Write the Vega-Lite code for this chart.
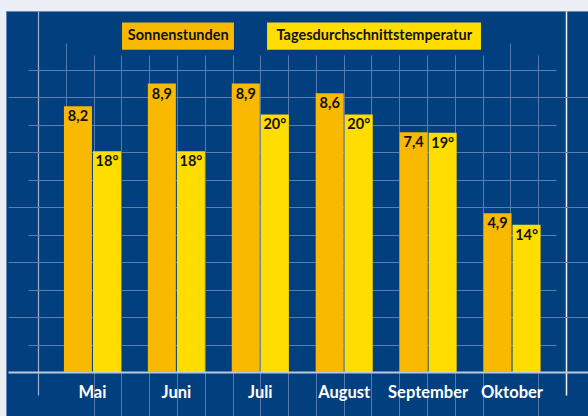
{
  "$schema": "https://vega.github.io/schema/vega-lite/v6.json",
  "width": 582,
  "height": 405,
  "autosize": {"type": "none"},
  "padding": {"left": 6, "top": 11, "right": 0, "bottom": 0},
  "background": "#eceef5",
  "config": {
    "view": {"fill": "#013f7f", "stroke": "#6a86b3", "strokeWidth": 1},
    "font": "Lato"
  },
  "datasets": {
    "monate": [
      {"Monat": "Mai", "Sonnenstunden": 8.2, "Temperatur": 18},
      {"Monat": "Juni", "Sonnenstunden": 8.9, "Temperatur": 18},
      {"Monat": "Juli", "Sonnenstunden": 8.9, "Temperatur": 20},
      {"Monat": "August", "Sonnenstunden": 8.6, "Temperatur": 20},
      {"Monat": "September", "Sonnenstunden": 7.4, "Temperatur": 19},
      {"Monat": "Oktober", "Sonnenstunden": 4.9, "Temperatur": 14}
    ]
  },
  "layer": [
    {
      "data": {"values": [{}]},
      "mark": {"type": "point", "opacity": 0},
      "encoding": {
        "x": {"datum": 0, "type": "quantitative", "scale": {"domain": [0, 19], "range": [32, 560]},
          "axis": {"values": [2,3,4,5,6,7,8,9,10,11,12,13,14,15,16,18], "grid": true, "gridColor": "#5479ae", "gridWidth": 1, "labels": false, "ticks": false, "domain": false, "title": null}},
        "y": {"datum": 0, "type": "quantitative", "scale": {"domain": [0, 1], "range": [361, 0]}, "axis": null}
      }
    },
    {
      "data": {"values": [{}]},
      "mark": {"type": "point", "opacity": 0},
      "encoding": {
        "x": {"datum": 0, "type": "quantitative", "scale": {"domain": [0, 19], "range": [32, 560]},
          "axis": {"values": [1, 17], "grid": true, "gridColor": "#5479ae", "gridWidth": 1, "labels": false, "ticks": false, "domain": false, "title": null}},
        "y": {"datum": 0, "type": "quantitative", "scale": {"domain": [0, 1], "range": [361, 32]}, "axis": null}
      }
    },
    {
      "data": {"values": [{}]},
      "mark": {"type": "point", "opacity": 0},
      "encoding": {
        "x": {"datum": 0, "type": "quantitative", "scale": {"domain": [0, 19], "range": [32, 560]},
          "axis": {"values": [0, 19], "grid": true,
            "gridColor": {"condition": {"test": "datum.value === 19", "value": "#f4f6fb"}, "value": "#9fb3d1"},
            "gridWidth": {"condition": {"test": "datum.value === 19", "value": 1.5}, "value": 1.2},
            "labels": false, "ticks": false, "domain": false, "title": null}},
        "y": {"datum": 0, "type": "quantitative", "scale": {"domain": [0, 1], "range": [384, 0]}, "axis": null}
      }
    },
    {
      "data": {"values": [{}]},
      "mark": {"type": "point", "opacity": 0},
      "encoding": {
        "y": {"datum": 0, "type": "quantitative", "scale": {"domain": [0, 11], "range": [361, 59]},
          "axis": {"values": [0, 2, 4, 6, 8, 10], "grid": true,
            "gridColor": {"condition": {"test": "datum.value === 0", "value": "#bcc8dd"}, "value": "#5a7eb2"},
            "gridWidth": {"condition": {"test": "datum.value === 0", "value": 2}, "value": 1},
            "labels": false, "ticks": false, "domain": false, "title": null}},
        "x": {"datum": 0, "type": "quantitative", "scale": {"domain": [0, 1], "range": [2, 582]}, "axis": null}
      }
    },
    {
      "data": {"values": [{}]},
      "mark": {"type": "point", "opacity": 0},
      "encoding": {
        "y": {"datum": 0, "type": "quantitative", "scale": {"domain": [0, 11], "range": [361, 59]},
          "axis": {"values": [1, 3, 5, 7, 9, 11], "grid": true, "gridColor": "#5a7eb2", "gridWidth": 1,
            "labels": false, "ticks": false, "domain": false, "title": null}},
        "x": {"datum": 0, "type": "quantitative", "scale": {"domain": [0, 1], "range": [32, 560]}, "axis": null}
      }
    },
    {
      "data": {"name": "monate"},
      "transform": [
        {"calculate": "replace(format(datum.Sonnenstunden, '.1f'), '.', ',')", "as": "SonneText"},
        {"calculate": "datum.Temperatur + '°'", "as": "TempText"}
      ],
      "encoding": {
        "x": {"field": "Monat", "type": "nominal", "sort": null,
          "scale": {"domain": ["Mai", "Juni", "Juli", "August", "September", "Oktober"], "range": [44.5, 548], "paddingInner": 0.32, "paddingOuter": 0.16},
          "axis": {"orient": "bottom", "offset": -44, "domain": false, "ticks": false, "grid": false, "labelPadding": 25, "labelBaseline": "alphabetic", "labelFont": "Lato", "labelFontWeight": "bold", "labelFontSize": 16.5, "labelColor": "#ffffff", "labelAngle": 0, "title": null}}
      },
      "layer": [
        {
          "encoding": {
            "xOffset": {"datum": "Sonnenstunden", "scale": {"domain": ["Sonnenstunden", "Tagesdurchschnittstemperatur"], "paddingInner": 0.035}},
            "y": {"field": "Sonnenstunden", "type": "quantitative", "scale": {"domain": [0, 11.14], "range": [361, 0]}, "axis": null}
          },
          "layer": [
            {
              "mark": {"type": "bar", "opacity": 1},
              "encoding": {
                "y2": {"datum": 0},
                "color": {"datum": "Sonnenstunden", "scale": {"domain": ["Sonnenstunden", "Tagesdurchschnittstemperatur"], "range": ["#f9b900", "#ffdd00"]},
                  "legend": {"orient": "none", "legendX": 158, "legendY": 11, "direction": "horizontal", "columns": 2, "title": null, "padding": 0, "columnPadding": 33, "symbolSize": 756, "symbolStrokeWidth": 0, "symbolOpacity": 1, "labelFont": "Lato", "labelFontWeight": "bold", "labelFontSize": 14.5, "labelColor": "#111111", "labelAlign": "center", "labelOffset": -13.75, "labelLimit": 400}}
              }
            },
            {
              "mark": {"type": "text", "font": "Lato", "fontWeight": "bold", "fontSize": 14.5, "color": "#141414", "baseline": "alphabetic", "align": "center", "dy": 15},
              "encoding": {"text": {"field": "SonneText"}}
            },
            {
              "mark": {"type": "point", "filled": true, "size": 0, "opacity": 1},
              "encoding": {
                "color": {"datum": "Sonnenstunden"},
                "shape": {"datum": "Sonnenstunden", "scale": {"domain": ["Sonnenstunden", "Tagesdurchschnittstemperatur"], "range": ["M-4.07,-1H4.07V1H-4.07Z", "M-7.78,-1H7.78V1H-7.78Z"]},
                  "legend": {"orient": "none", "legendX": 158, "legendY": 11, "direction": "horizontal", "columns": 2, "title": null, "padding": 0, "columnPadding": 33, "symbolSize": 756, "symbolStrokeWidth": 0, "symbolOpacity": 1, "labelFont": "Lato", "labelFontWeight": "bold", "labelFontSize": 14.5, "labelColor": "#111111", "labelAlign": "center", "labelOffset": -13.75, "labelLimit": 400}}
              }
            }
          ]
        },
        {
          "encoding": {
            "xOffset": {"datum": "Tagesdurchschnittstemperatur"},
            "y": {"field": "Temperatur", "type": "quantitative", "scale": {"domain": [6, 25.62], "range": [361, 0]}, "axis": null}
          },
          "layer": [
            {
              "mark": {"type": "bar", "opacity": 1},
              "encoding": {
                "y2": {"datum": 6},
                "color": {"datum": "Tagesdurchschnittstemperatur"}
              }
            },
            {
              "mark": {"type": "text", "font": "Lato", "fontWeight": "bold", "fontSize": 14.5, "color": "#141414", "baseline": "alphabetic", "align": "center", "dy": 15},
              "encoding": {"text": {"field": "TempText"}}
            },
            {
              "mark": {"type": "point", "filled": true, "size": 0, "opacity": 1},
              "encoding": {
                "color": {"datum": "Tagesdurchschnittstemperatur"},
                "shape": {"datum": "Tagesdurchschnittstemperatur"}
              }
            }
          ]
        }
      ],
      "resolve": {"scale": {"y": "independent"}}
    }
  ],
  "resolve": {"scale": {"x": "independent", "y": "independent"}, "axis": {"x": "independent", "y": "independent"}}
}
